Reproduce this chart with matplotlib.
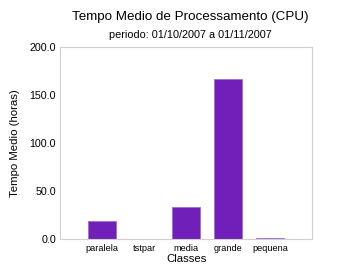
import matplotlib
matplotlib.use("Agg")
import matplotlib.pyplot as plt
import numpy as np

plt.rcParams['font.family'] = ['Liberation Sans', 'DejaVu Sans']

# Tempo medio por classe (horas)
classes = ["paralela", "tstpar", "media", "grande", "pequena"]
tempo_medio = [18.8, 0.3, 33.3, 166.7, 1.3]
y_ticks = [0, 50, 100, 150, 200]

fig = plt.figure(figsize=(3.62, 2.80), dpi=100)
ax = fig.add_axes([0.166, 0.145, 0.696, 0.686])

x = np.arange(len(classes))
ax.bar(x, tempo_medio, width=0.67, color="#7020B8", edgecolor="#9a70d0", linewidth=0.6)

ax.set_xlim(-1, len(classes))
ax.set_ylim(0, 200)
ax.set_xticks(x)
ax.set_xticklabels(classes, fontsize=6.6)
ax.set_yticks(y_ticks)
ax.set_yticklabels([f"{v:.1f}" for v in y_ticks], fontsize=7.7)
ax.tick_params(length=0, pad=3)

for s in ax.spines.values():
    s.set_color("#d0d0d0")
    s.set_linewidth(0.8)

ax.set_xlabel("Classes", fontsize=8.2, labelpad=1)
ax.set_ylabel("Tempo Medio (horas)", fontsize=8.2, labelpad=7)

fig.text(0.525, 0.94, "Tempo Medio de Processamento (CPU)", ha="center", va="center", fontsize=9.6)
fig.text(0.525, 0.875, "periodo: 01/10/2007 a 01/11/2007", ha="center", va="center", fontsize=7.8)

fig.savefig("out.png", dpi=100)
